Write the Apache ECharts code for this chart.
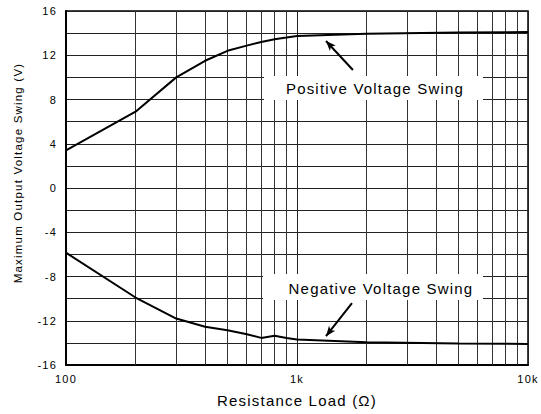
<!DOCTYPE html>
<html>
<head>
<meta charset="utf-8">
<script src="https://cdn.jsdelivr.net/npm/echarts@6/dist/echarts.min.js"></script>
<style>
  body { margin: 0; background: #fff; }
  #main { width: 541px; height: 414px; }
  #main text { letter-spacing: 1.2px; }
</style>
</head>
<body>
<div id="main"></div>
<script>
  // load resistance (ohm)
  const loads = [100, 200, 300, 400, 500, 600, 700, 800, 900, 1000, 2000, 5000, 10000];
  const positiveSwing = [3.4, 6.9, 10.0, 11.5, 12.4, 12.85, 13.2, 13.45, 13.6, 13.75, 13.95, 14.05, 14.1];
  const negativeSwing = [-5.85, -9.9, -11.8, -12.55, -12.85, -13.2, -13.55, -13.35, -13.55, -13.7, -13.95, -14.05, -14.1];
  // minor log grid lines
  const minorGrid = [200, 300, 400, 500, 600, 700, 800, 900, 2000, 3000, 4000, 5000, 6000, 7000, 8000, 9000];
  const xTickLabels = {100: '100', 1000: '1k', 10000: '10k'};
  // arrows: [tail, head] in data coords
  const posArrow = [[1746, 10.67], [1335, 13.29]];
  const negArrow = [[1730, -10.4], [1335, -13.39]];

  const font = '"Liberation Sans", Arial, sans-serif';
  const chart = echarts.init(document.getElementById('main'), null, {renderer: 'svg'});

  function pairs(xs, ys) {
    return xs.map((x, i) => [x, ys[i]]);
  }

  const option = {
    animation: false,
    grid: {
      left: 66, right: 13, top: 11, bottom: 49,
      show: true, borderColor: '#000', borderWidth: 1.5
    },
    xAxis: {
      type: 'log', logBase: 10, min: 100, max: 10000,
      name: 'Resistance Load (Ω)', nameLocation: 'middle', nameGap: 28,
      nameTextStyle: {fontFamily: font, fontSize: 15, color: '#000'},
      axisLine: {onZero: false, lineStyle: {color: '#000', width: 2}},
      axisTick: {show: false},
      axisLabel: {
        fontFamily: font, fontSize: 11, color: '#000', margin: 8,
        formatter: v => xTickLabels[v] || ''
      },
      splitLine: {show: true, lineStyle: {color: '#222', width: 1}}
    },
    yAxis: {
      type: 'value', min: -16, max: 16, interval: 4,
      axisLine: {onZero: false, lineStyle: {color: '#000', width: 2}},
      axisTick: {show: false},
      axisLabel: {fontFamily: font, fontSize: 11, color: '#000', margin: 9},
      splitLine: {show: true, lineStyle: {color: '#222', width: 1}},
      minorTick: {show: false, splitNumber: 2},
      minorSplitLine: {show: true, lineStyle: {color: '#222', width: 1}}
    },
    series: [
      {
        type: 'line', data: [], silent: true,
        markLine: {
          silent: true, symbol: 'none', label: {show: false},
          lineStyle: {color: '#333', width: 1, type: 'solid'},
          data: minorGrid.map(v => ({xAxis: v}))
        }
      },
      {
        name: 'Positive Voltage Swing', type: 'line', data: pairs(loads, positiveSwing),
        showSymbol: false, smooth: false,
        lineStyle: {color: '#000', width: 2}, z: 5,
        markLine: {
          silent: true, label: {show: false}, symbol: ['none', 'arrow'], symbolSize: [6, 10],
          lineStyle: {color: '#000', width: 2, type: 'solid'},
          data: [[{coord: posArrow[0]}, {coord: posArrow[1]}]]
        }
      },
      {
        name: 'Negative Voltage Swing', type: 'line', data: pairs(loads, negativeSwing),
        showSymbol: false, smooth: false,
        lineStyle: {color: '#000', width: 2}, z: 5,
        markLine: {
          silent: true, label: {show: false}, symbol: ['none', 'arrow'], symbolSize: [6, 10],
          lineStyle: {color: '#000', width: 2, type: 'solid'},
          data: [[{coord: negArrow[0]}, {coord: negArrow[1]}]]
        }
      }
    ],
    graphic: [
      {type: 'text', x: 18, y: 173, rotation: Math.PI / 2, z: 51,
        style: {text: 'Maximum Output Voltage Swing (V)', font: '11.5px ' + font, fill: '#000', align: 'center', verticalAlign: 'middle'}},
      {type: 'rect', shape: {x: 264, y: 76, width: 219, height: 24}, style: {fill: '#fff'}, z: 50},
      {type: 'text', x: 375, y: 88, z: 51,
        style: {text: 'Positive Voltage Swing', font: '15px ' + font, fill: '#000', align: 'center', verticalAlign: 'middle'}},
      {type: 'rect', shape: {x: 263, y: 274, width: 220, height: 26}, style: {fill: '#fff'}, z: 50},
      {type: 'text', x: 381, y: 288, z: 51,
        style: {text: 'Negative Voltage Swing', font: '15px ' + font, fill: '#000', align: 'center', verticalAlign: 'middle'}}
    ]
  };
  chart.setOption(option);
</script>
</body>
</html>
